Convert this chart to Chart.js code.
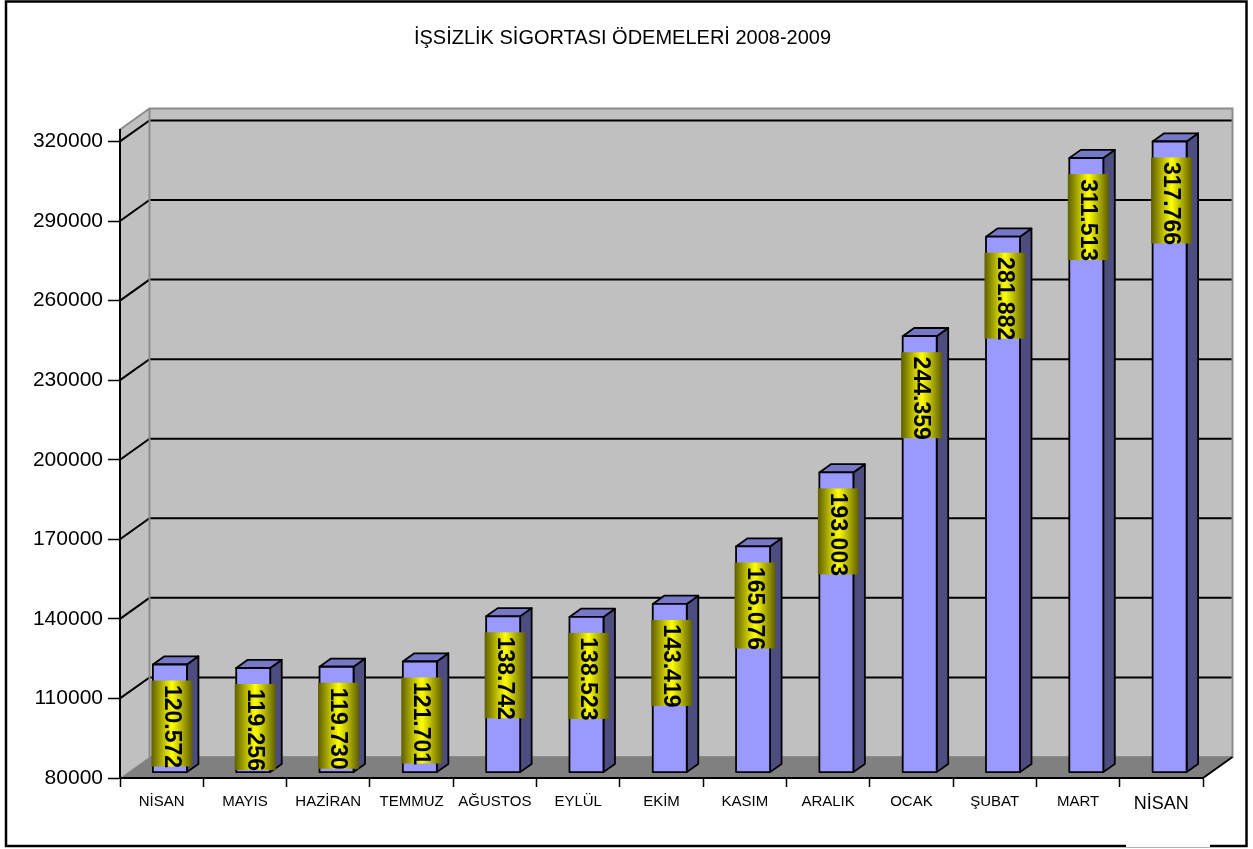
<!DOCTYPE html>
<html>
<head>
<meta charset="utf-8">
<script src="https://cdn.jsdelivr.net/npm/chart.js@4.4.1/dist/chart.umd.min.js"></script>
<style>
  html, body { margin: 0; padding: 0; background: #ffffff; }
  canvas { display: block; }
</style>
</head>
<body>
<canvas id="c" width="1253" height="849"></canvas>
<script>
// ---- data ----
const chartTitle = 'İŞSİZLİK SİGORTASI ÖDEMELERİ 2008-2009';
const categories = ['NİSAN', 'MAYIS', 'HAZİRAN', 'TEMMUZ', 'AĞUSTOS', 'EYLÜL', 'EKİM', 'KASIM', 'ARALIK', 'OCAK', 'ŞUBAT', 'MART', 'NİSAN'];
const payments = [120572, 119256, 119730, 121701, 138742, 138523, 143419, 165076, 193003, 244359, 281882, 311513, 317766];
const yTickValues = [80000, 110000, 140000, 170000, 200000, 230000, 260000, 290000, 320000];

// ---- styling ----
const FONT = "'Liberation Sans', Arial, sans-serif";
const DEPTH = { x: 29.5, y: -21 };      // wall depth
const BAR_FRONT = 0.28;                  // bar front plane as fraction of depth
const BAR_DEPTH = 0.39;                  // bar thickness as fraction of depth

function fmt(v) {
  return String(v).replace(/\B(?=(\d{3})+(?!\d))/g, '.');
}

const walls3D = {
  id: 'walls3D',
  beforeDraw(chart) {
    const ctx = chart.ctx;
    const a = chart.chartArea;
    const y = chart.scales.y;
    const dx = DEPTH.x, dy = DEPTH.y;
    ctx.save();
    ctx.fillStyle = '#ffffff';
    ctx.fillRect(0, 0, chart.width, chart.height);

    // title
    ctx.fillStyle = '#000000';
    ctx.font = '20px ' + FONT;
    ctx.textAlign = 'center';
    ctx.textBaseline = 'middle';
    ctx.fillText(chartTitle, 622.5, 38);

    // back wall
    ctx.fillStyle = '#c0c0c0';
    ctx.fillRect(a.left + dx, a.top + dy, a.right - a.left, a.bottom - a.top);
    // side wall
    ctx.beginPath();
    ctx.moveTo(a.left, a.top);
    ctx.lineTo(a.left + dx, a.top + dy);
    ctx.lineTo(a.left + dx, a.bottom + dy);
    ctx.lineTo(a.left, a.bottom);
    ctx.closePath();
    ctx.fill();

    // gridlines on back wall and side wall
    ctx.strokeStyle = '#000000';
    ctx.lineWidth = 2;
    yTickValues.forEach(v => {
      if (v === y.min) return;
      const py = y.getPixelForValue(v);
      ctx.beginPath();
      ctx.moveTo(a.left, py);
      ctx.lineTo(a.left + dx, py + dy);
      ctx.lineTo(a.right + dx, py + dy);
      ctx.stroke();
    });

    // wall borders
    ctx.strokeStyle = '#8c8c8c';
    ctx.lineWidth = 2;
    ctx.strokeRect(a.left + dx, a.top + dy, a.right - a.left, a.bottom - a.top);
    ctx.beginPath();
    ctx.moveTo(a.left, a.top);
    ctx.lineTo(a.left + dx, a.top + dy);
    ctx.stroke();

    // floor
    ctx.fillStyle = '#808080';
    ctx.beginPath();
    ctx.moveTo(a.left, a.bottom);
    ctx.lineTo(a.right, a.bottom);
    ctx.lineTo(a.right + dx, a.bottom + dy);
    ctx.lineTo(a.left + dx, a.bottom + dy);
    ctx.closePath();
    ctx.fill();
    ctx.strokeStyle = '#a0a0a0';
    ctx.lineWidth = 1;
    ctx.beginPath();
    ctx.moveTo(a.left, a.bottom);
    ctx.lineTo(a.left + dx, a.bottom + dy);
    ctx.stroke();
    ctx.strokeStyle = '#000000';
    ctx.lineWidth = 2;
    ctx.beginPath();
    ctx.moveTo(a.right, a.bottom);
    ctx.lineTo(a.right + dx, a.bottom + dy);
    ctx.stroke();
    ctx.restore();
  },
  afterDatasetsDraw(chart) {
    const ctx = chart.ctx;
    const meta = chart.getDatasetMeta(0);
    const yScale = chart.scales.y;
    const floorY = yScale.getPixelForValue(yScale.min);
    const fx = DEPTH.x * BAR_FRONT, fy = DEPTH.y * BAR_FRONT;
    const bx = DEPTH.x * BAR_DEPTH, by = DEPTH.y * BAR_DEPTH;
    const faces = [];
    ctx.save();
    ctx.lineJoin = 'round';
    meta.data.forEach((el, i) => {
      const p = el.getProps(['x', 'y', 'base', 'width'], true);
      const L = p.x - p.width / 2 + fx, R = p.x + p.width / 2 + fx;
      const T = p.y + fy, B = Math.min(p.base, floorY) + fy;
      ctx.strokeStyle = '#000000';
      ctx.lineWidth = 1.8;
      // side
      ctx.fillStyle = '#4d4d80';
      ctx.beginPath();
      ctx.moveTo(R, T); ctx.lineTo(R + bx, T + by); ctx.lineTo(R + bx, B + by); ctx.lineTo(R, B);
      ctx.closePath(); ctx.fill(); ctx.stroke();
      // top
      ctx.fillStyle = '#7777c8';
      ctx.beginPath();
      ctx.moveTo(L, T); ctx.lineTo(L + bx, T + by); ctx.lineTo(R + bx, T + by); ctx.lineTo(R, T);
      ctx.closePath(); ctx.fill(); ctx.stroke();
      // front
      ctx.fillStyle = '#9999ff';
      ctx.beginPath();
      ctx.rect(L, T, R - L, B - T);
      ctx.fill(); ctx.stroke();
      faces.push({ L, R, T, v: payments[i] });
    });
    // data labels
    faces.forEach(f => {
      const cx = (f.L + f.R) / 2 + 2;
      const w = 41, h = 86;
      const top = f.T + 16;
      const g = ctx.createLinearGradient(cx - w / 2, 0, cx + w / 2, 0);
      g.addColorStop(0, '#5e5e00');
      g.addColorStop(0.5, '#ffff00');
      g.addColorStop(1, '#5e5e00');
      ctx.fillStyle = g;
      ctx.fillRect(cx - w / 2, top, w, h);
      ctx.save();
      ctx.translate(cx, top + h / 2 + 3);
      ctx.rotate(Math.PI / 2);
      ctx.fillStyle = '#000000';
      ctx.font = 'bold 23px ' + FONT;
      ctx.textAlign = 'center';
      ctx.textBaseline = 'middle';
      ctx.fillText(fmt(f.v), 0, 1);
      ctx.restore();
    });
    ctx.restore();
  },
  afterDraw(chart) {
    const ctx = chart.ctx;
    ctx.save();
    ctx.strokeStyle = '#000000';
    ctx.lineWidth = 2.5;
    ctx.strokeRect(6, 1.5, 1240.5, 844.5);
    ctx.fillStyle = '#ffffff';
    ctx.fillRect(1126, 843, 84, 5);
    ctx.strokeStyle = '#b0b0b0';
    ctx.lineWidth = 1;
    ctx.beginPath();
    ctx.moveTo(1126, 847.5); ctx.lineTo(1210, 847.5);
    ctx.stroke();
    ctx.restore();
  }
};

Chart.defaults.font.family = FONT;
Chart.defaults.color = '#000000';

new Chart(document.getElementById('c'), {
  type: 'bar',
  data: {
    labels: categories,
    datasets: [{
      data: payments,
      backgroundColor: 'rgba(0,0,0,0)',
      borderWidth: 0,
      barPercentage: 0.408,
      categoryPercentage: 1
    }]
  },
  options: {
    responsive: false,
    animation: false,
    layout: { padding: { left: 0, right: 50, top: 129.5, bottom: 0 } },
    plugins: {
      legend: { display: false },
      tooltip: { enabled: false },
      title: { display: false }
    },
    scales: {
      x: {
        type: 'category',
        offset: true,
        grid: { offset: true, drawOnChartArea: false, drawTicks: true, tickLength: 9, tickColor: '#000000', tickWidth: 1.5 },
        border: { display: true, color: '#000000', width: 2 },
        ticks: {
          autoSkip: false,
          maxRotation: 0,
          minRotation: 0,
          padding: 6,
          color: '#000000',
          font: ctx => ({ size: ctx.index === categories.length - 1 ? 18 : 15, family: FONT })
        },
        afterFit: s => { s.height = 71; }
      },
      y: {
        min: 80000,
        max: 324500,
        afterBuildTicks: s => { s.ticks = yTickValues.map(v => ({ value: v })); },
        grid: { drawOnChartArea: false, drawTicks: true, tickLength: 12, tickColor: '#000000', tickWidth: 1.5 },
        border: { display: true, color: '#000000', width: 2 },
        ticks: {
          padding: 5,
          color: '#000000',
          font: { size: 21, family: FONT },
          callback: v => String(v)
        },
        afterFit: s => { s.width = 120; }
      }
    }
  },
  plugins: [walls3D]
});
</script>
</body>
</html>
